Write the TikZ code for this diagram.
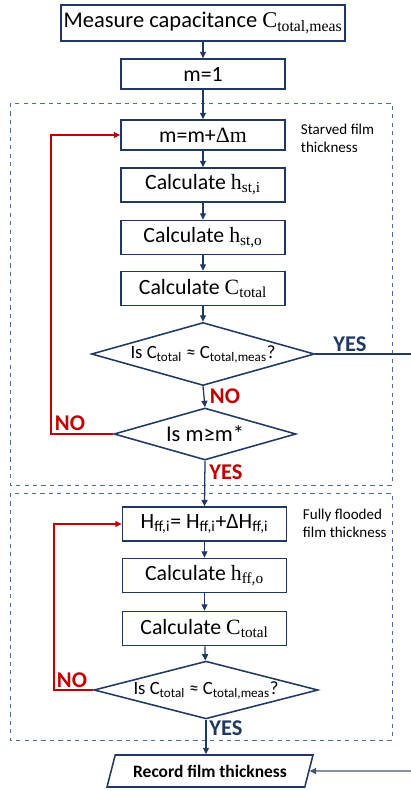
\documentclass[tikz,border=0pt]{standalone}
\usepackage{fontspec}
\setmainfont{Carlito}
\newfontfamily\tnr{Liberation Serif}
\usetikzlibrary{arrows.meta,shapes.geometric}
\definecolor{navy}{HTML}{203864}
\definecolor{cRed}{HTML}{C00000}
\definecolor{frameBlue}{HTML}{4A6AA8}
\definecolor{slate}{HTML}{44546A}
\newcommand{\sbs}[1]{\textsubscript{#1}}
\newcommand{\ser}[2]{{\tnr #1\textsubscript{#2}}}

\begin{document}
\begin{tikzpicture}[
  x=0.025cm, y=-0.025cm,
  box/.style={draw=navy, line width=1.1pt, minimum width=4.1cm, minimum height=0.8cm, font=\fontsize{15.5}{17}\selectfont},
  dec/.style={draw=navy, line width=1.1pt, diamond, aspect=3.6, inner sep=0pt, font=\fontsize{13.3}{15}\selectfont},
  flow/.style={-{Triangle[length=1.6mm,width=1.5mm]}, line width=0.9pt, draw=navy},
  back/.style={-{Triangle[length=1.6mm,width=1.5mm]}, line width=0.9pt, draw=cRed},
  frame/.style={draw=frameBlue, dashed, line width=0.5pt},
  yes/.style={font=\bfseries\fontsize{16}{18}\selectfont, text=navy},
  no/.style={font=\bfseries\fontsize{16}{18}\selectfont, text=cRed},
  note/.style={font=\fontsize{10.7}{13}\selectfont, align=left}
]
\useasboundingbox (0,0) rectangle (411,790);
% dashed groups
\draw[frame] (10,103) rectangle (392,485);
\draw[frame] (10,493) rectangle (392,740);
% starved part
\node[box, minimum width=6.9cm, minimum height=0.9cm, inner sep=2pt, font=\fontsize{16}{18}\selectfont] (meas) at (203,23) {Measure capacitance \ser{C}{total,meas}};
\node[box, minimum height=0.75cm] (m1) at (203,74) {m=1};
\node[box, minimum height=0.75cm] (inc) at (203,135) {m=m+{\tnr Δm}};
\node[box, minimum height=0.85cm] (hsti) at (203,185) {Calculate \ser{h}{st,i}};
\node[box, minimum height=0.85cm] (hsto) at (203,237.5) {Calculate \ser{h}{st,o}};
\node[box, minimum height=0.85cm] (ctot) at (203,288.5) {Calculate \ser{C}{total}};
\node[dec, minimum width=5.575cm, minimum height=1.575cm] (q1) at (203,354) {Is C\sbs{total} ≈ C\sbs{total,meas}?};
\node[dec, minimum width=4.55cm, minimum height=1.3cm, font=\fontsize{16}{18}\selectfont] (q2) at (205,434) {Is m≥m*};
\node[note, anchor=north west] (starved) at (296,119) {Starved film\\thickness};
% fully flooded part
\node[box, minimum height=0.85cm] (hff) at (204.5,524) {H\sbs{ff,i}= H\sbs{ff,i}+ΔH\sbs{ff,i}};
\node[box, minimum height=0.85cm] (hffo) at (204.5,575.5) {Calculate \ser{h}{ff,o}};
\node[box, minimum height=0.85cm] (ctot2) at (204.5,628.5) {Calculate \ser{C}{total}};
\node[dec, minimum width=5.6cm, minimum height=1.325cm] (q3) at (206,690) {Is C\sbs{total} ≈ C\sbs{total,meas}?};
\node[note, anchor=north west] (flooded) at (298,504) {Fully flooded\\film thickness};
\node[draw=navy, line width=1.1pt, trapezium, trapezium left angle=72, trapezium right angle=108, trapezium stretches=true, minimum width=5.15cm, minimum height=0.8cm, font=\bfseries\fontsize{12.4}{14}\selectfont] (rec) at (210,771) {Record film thickness};
% labels
\node[yes] (yes1) at (350,344) {YES};
\node[no] (no1) at (225,396) {NO};
\node[no] (no2) at (70,423) {NO};
\node[no] (yes2) at (226,472) {YES};
\node[no] (no3) at (72,680) {NO};
\node[yes] (yes3) at (226,728) {YES};
% connectors
\draw[flow] (meas) -- (m1);
\draw[flow] (m1) -- (inc);
\draw[flow] (inc) -- (hsti);
\draw[flow] (hsti) -- (hsto);
\draw[flow] (hsto) -- (ctot);
\draw[flow] (ctot) -- (q1);
\draw[flow] (q1.south) -- (q2.north);
\draw[flow] (q2.south) -- (hff.north);
\draw[flow] (hff) -- (hffo);
\draw[flow] (hffo) -- (ctot2);
\draw[flow] (ctot2) -- (q3);
\draw[flow] (q3.south) -- (rec.north -| q3.south);
\coordinate (loop1) at (51,434);
\coordinate (loop2) at (54,690);
\draw[back] (q2.west) -- (loop1) |- (inc.west);
\draw[back] (q3.west) -- (loop2) |- (hff.west);
\coordinate (outR) at (411,354);
\coordinate (inR) at (411,771);
\draw[line width=0.9pt, draw=navy] (q1.east) -- (outR);
\draw[flow, draw=slate] (inR) -- (rec.east);
\end{tikzpicture}
\end{document}
